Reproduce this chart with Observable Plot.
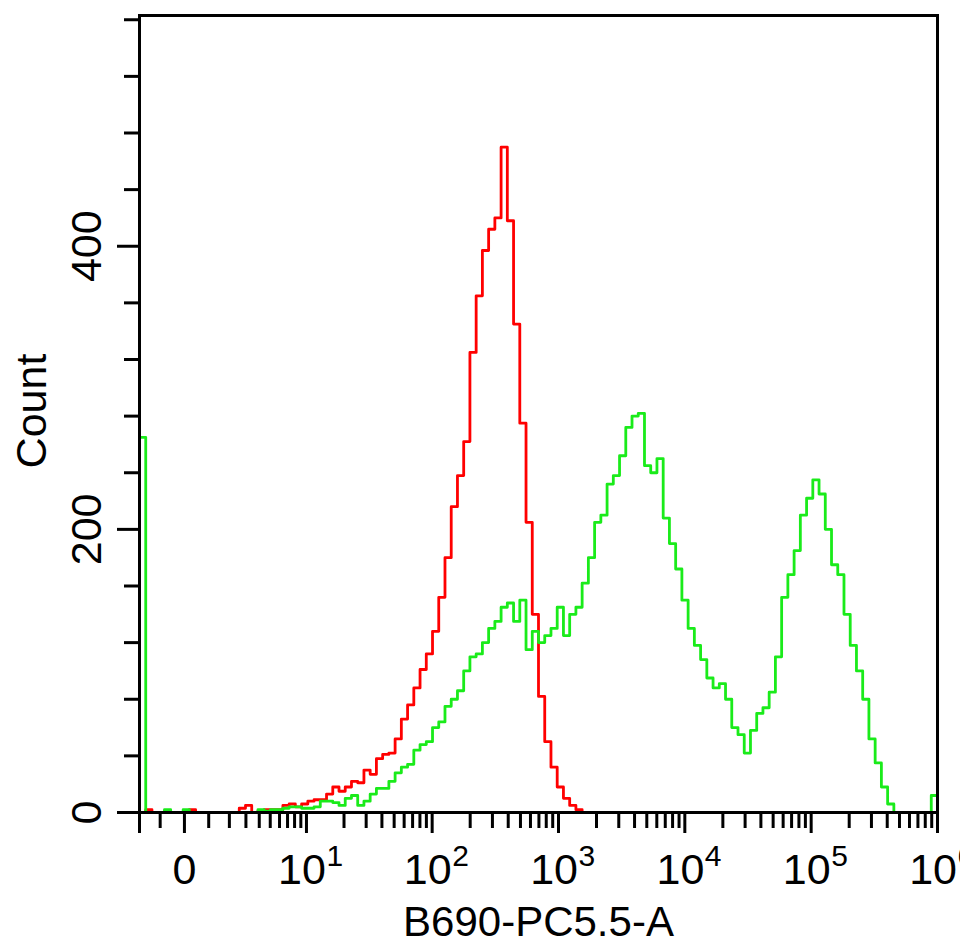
<!DOCTYPE html>
<html>
<head>
<meta charset="utf-8">
<script src="https://cdn.jsdelivr.net/npm/d3@7"></script>
<script src="https://cdn.jsdelivr.net/npm/@observablehq/plot@0.6"></script>
<style>
  html, body { margin: 0; padding: 0; background: #fff; overflow: hidden; }
</style>
</head>
<body>
<div id="chart"></div>
<script>
// ---- Data ----
// Display axis: arcsinh ("biexponential") scale, 128 equal-width display bins from -2 to 10^6
const xMin = -2;
const xMax = 1000000;
const asinhWidth = 2.189;
const nBins = 128;

// Counts per display bin (bin 0 .. 127), isotype control (red)
const redCounts = [
  0, 2, 0, 0, 0, 0, 0, 0, 2, 0,
  0, 0, 0, 0, 0, 0, 3, 5, 0, 1,
  2, 2, 2, 5, 6, 4, 6, 8, 9, 9,
  13, 18, 15, 18, 22, 21, 30, 27, 38, 41,
  42, 52, 66, 76, 88, 101, 112, 128, 152, 180,
  216, 238, 262, 325, 365, 397, 412, 420, 470, 418,
  345, 275, 205, 140, 82, 50, 32, 18, 10, 5,
  2, 0, 0, 0, 0, 0, 0, 0, 0, 0,
  0, 0, 0, 0, 0, 0, 0, 0, 0, 0,
  0, 0, 0, 0, 0, 0, 0, 0, 0, 0,
  0, 0, 0, 0, 0, 0, 0, 0, 0, 0,
  0, 0, 0, 0, 0, 0, 0, 0, 0, 0,
  0, 0, 0, 0, 0, 0, 0, 0
];

// Counts per display bin (bin 0 .. 127), stained sample (green)
const greenCounts = [
  265, 0, 0, 0, 2, 0, 0, 2, 0, 0,
  0, 0, 0, 0, 0, 0, 0, 0, 0, 2,
  1, 2, 2, 3, 4, 4, 3, 3, 4, 8,
  8, 7, 5, 10, 12, 5, 8, 13, 17, 17,
  22, 28, 32, 34, 44, 48, 50, 60, 64, 75,
  80, 86, 100, 110, 112, 120, 130, 135, 145, 148,
  135, 150, 115, 128, 120, 125, 130, 145, 125, 140,
  145, 162, 180, 205, 210, 232, 238, 252, 272, 280,
  282, 245, 240, 250, 208, 190, 172, 150, 130, 118,
  108, 95, 88, 91, 80, 60, 55, 42, 58, 70,
  74, 85, 110, 152, 168, 185, 210, 222, 235, 225,
  200, 175, 168, 140, 118, 100, 80, 52, 35, 18,
  6, 0, 0, 0, 0, 0, 0, 12
];

// Axis ticks and labels
const xMajorTicks = [-2, 0, 10, 100, 1000, 10000, 100000, 1000000];
const xMinorTicks = [
  -1,
  1, 2, 3, 4, 5, 6, 7, 8, 9,
  20, 30, 40, 50, 60, 70, 80, 90,
  200, 300, 400, 500, 600, 700, 800, 900,
  2000, 3000, 4000, 5000, 6000, 7000, 8000, 9000,
  20000, 30000, 40000, 50000, 60000, 70000, 80000, 90000,
  200000, 300000, 400000, 500000, 600000, 700000, 800000, 900000
];
const xLabelValues = [0, 10, 100, 1000, 10000, 100000, 1000000];
const xLabelBase = ["0", "10", "10", "10", "10", "10", "10"];
const xLabelExp = ["", "1", "2", "3", "4", "5", "6"];

const yMajorTicks = [0, 200, 400];
const yMinorTicks = [40, 80, 120, 160, 240, 280, 320, 360, 440, 480, 520, 560];
const yMax = 563;

const xTitle = "B690-PC5.5-A";
const yTitle = "Count";
const redColor = "#ff0000";
const greenColor = "#1aeb1a";

// ---- Build ----
const T = v => Math.asinh(v / asinhWidth);
const t0 = T(xMin), t1 = T(xMax);
const edge = k => t0 + k * (t1 - t0) / nBins;

function stepData(counts) {
  const pts = [{x: edge(0), y: 0}];
  counts.forEach((c, k) => pts.push({x: edge(k), y: c}));
  pts.push({x: edge(counts.length), y: 0});
  return pts;
}

const xLabels = xLabelValues.map((v, i) => ({v, base: xLabelBase[i], exp: xLabelExp[i]}));

const chart = Plot.plot({
  width: 960,
  height: 943,
  marginLeft: 139,
  marginRight: 23,
  marginTop: 15,
  marginBottom: 131,
  style: {background: "white", fontFamily: "'Liberation Sans', Arial, sans-serif", overflow: "hidden", color: "black"},
  x: {type: "linear", domain: [t0, t1]},
  y: {domain: [0, yMax]},
  marks: [
    Plot.line(stepData(redCounts), {x: "x", y: "y", curve: "step-after", stroke: redColor, strokeWidth: 2.8}),
    Plot.line(stepData(greenCounts), {x: "x", y: "y", curve: "step-after", stroke: greenColor, strokeWidth: 2.8}),
    Plot.frame({stroke: "black", strokeWidth: 3}),
    Plot.axisX(xMajorTicks.map(T), {anchor: "bottom", tickSize: 21, strokeWidth: 3, fill: "none", label: null}),
    Plot.axisX(xMinorTicks.map(T), {anchor: "bottom", tickSize: 16, strokeWidth: 3, fill: "none", label: null}),
    Plot.axisY(yMajorTicks, {anchor: "left", tickSize: 22, strokeWidth: 3, fill: "none", label: null}),
    Plot.axisY(yMinorTicks, {anchor: "left", tickSize: 15, strokeWidth: 3, fill: "none", label: null}),
    // x tick labels
    Plot.text(xLabels.filter(d => d.exp === ""), {
      x: d => T(d.v), text: "base", frameAnchor: "bottom", textAnchor: "middle",
      lineAnchor: "bottom", dy: 71, fontSize: 43, fill: "black"
    }),
    Plot.text(xLabels.filter(d => d.exp !== ""), {
      x: d => T(d.v), text: "base", frameAnchor: "bottom", textAnchor: "end",
      lineAnchor: "bottom", dx: 19.5, dy: 71, fontSize: 43, fill: "black"
    }),
    Plot.text(xLabels.filter(d => d.exp !== ""), {
      x: d => T(d.v), text: "exp", frameAnchor: "bottom", textAnchor: "start",
      lineAnchor: "bottom", dx: 20, dy: 53, fontSize: 30, fill: "black"
    }),
    // y tick labels
    Plot.text(yMajorTicks, {
      y: d => d, text: d => String(d), frameAnchor: "left", rotate: -90,
      textAnchor: "middle", lineAnchor: "bottom", dx: -39, fontSize: 43, fill: "black"
    }),
    // axis titles
    Plot.text([yTitle], {
      text: d => d, frameAnchor: "left", rotate: -90, textAnchor: "middle",
      lineAnchor: "bottom", dx: -94, dy: -3, fontSize: 43, fill: "black"
    }),
    Plot.text([xTitle], {
      text: d => d, frameAnchor: "bottom", textAnchor: "middle",
      lineAnchor: "bottom", dy: 123, fontSize: 42, fill: "black"
    })
  ]
});

document.getElementById("chart").appendChild(chart);
</script>
</body>
</html>
